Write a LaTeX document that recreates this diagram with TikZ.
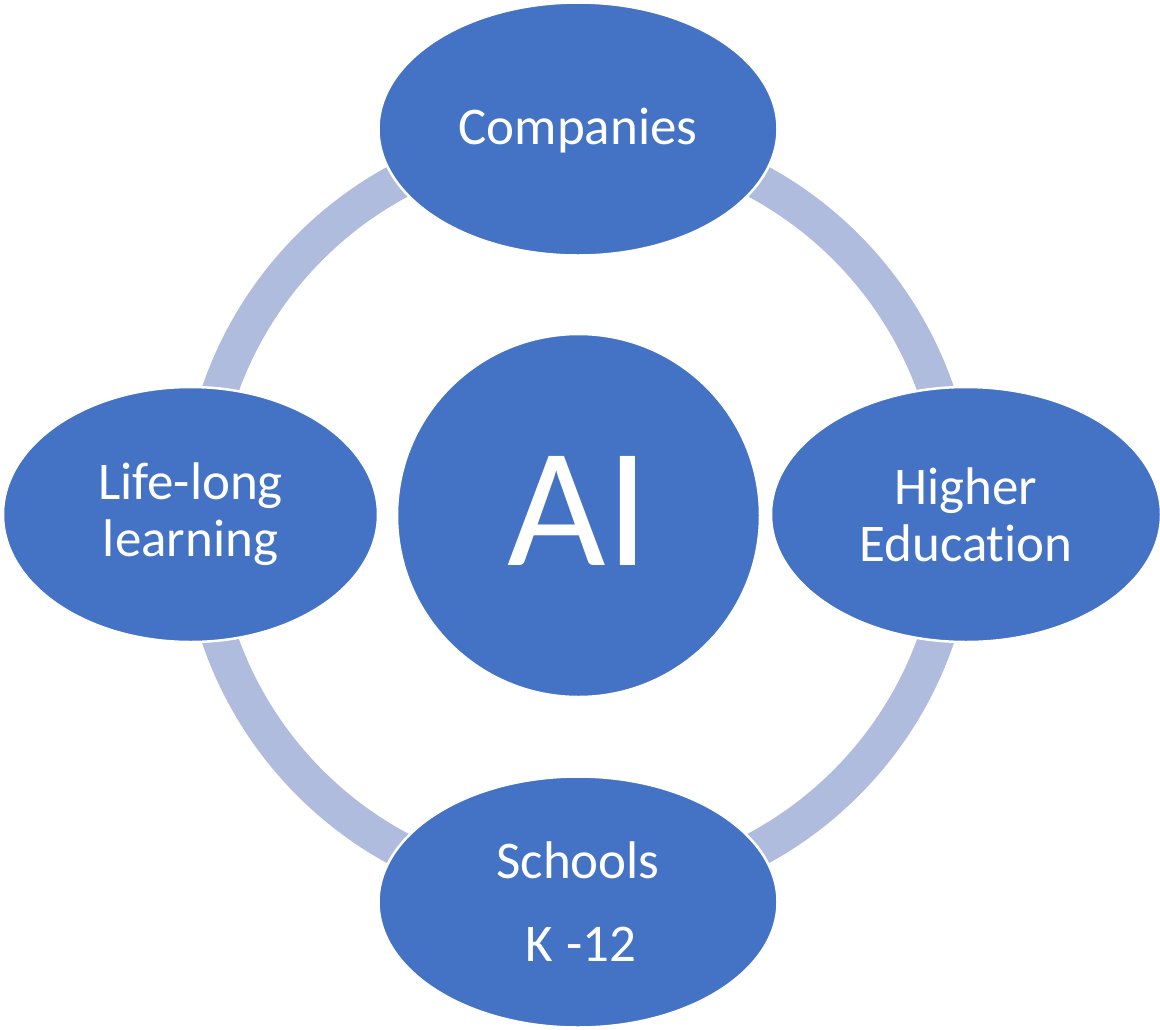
\documentclass[tikz,border=0pt]{standalone}
\usepackage{fontspec}
\setmainfont[Ligatures={NoCommon}]{Carlito}
\usetikzlibrary{shapes.geometric}
\definecolor{ellblue}{HTML}{4472C4}
\definecolor{ringblue}{HTML}{AFBCDD}
\begin{document}
\begin{tikzpicture}[x=1pt,y=-1pt,
  bubble/.style={ellipse,fill=ellblue,draw=white,line width=2.5pt,inner sep=0pt,
    text=white,align=center,font=\fontsize{53}{57}\selectfont},
  hub/.style={circle,fill=ellblue,draw=white,line width=2.5pt,inner sep=0pt,
    minimum size=363pt,text=white,font=\fontsize{170}{170}\selectfont},
  ringline/.style={draw=ringblue,line width=36pt}]
\useasboundingbox (0,0) rectangle (1160,1029);
\coordinate (ctr) at (578,515);
\draw[ringline] (ctr) circle[radius=379];
\node[hub] (ai) at (578.5,515.5) {\raisebox{5pt}[\height][\depth]{AI}};
\node[bubble,minimum width=399pt,minimum height=253pt] (comp) at (578,129) {\raisebox{-2pt}[\height][\depth]{Companies}};
\node[bubble,minimum width=375pt,minimum height=255pt] (life) at (190.5,514.5) {Life-long\\learning};
\node[bubble,minimum width=390pt,minimum height=255pt] (higher) at (966,514.5) {Higher\\Education};
\node[bubble,minimum width=399pt,minimum height=251pt] (school) at (578,902) {Schools\\[26pt]\hspace*{6pt}K\hspace{1pt} -12};
\end{tikzpicture}
\end{document}
